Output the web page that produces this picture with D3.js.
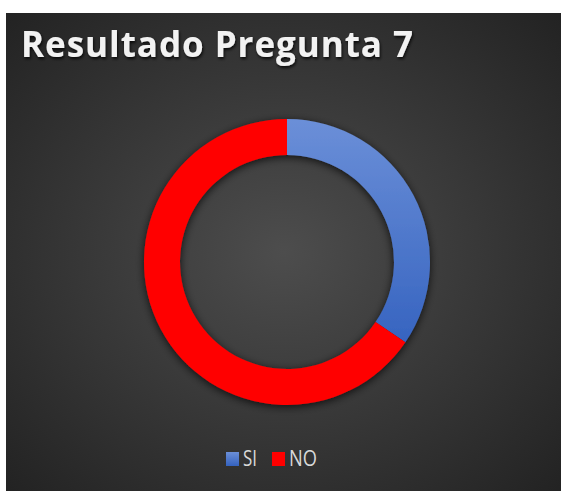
<!DOCTYPE html>
<html>
<head>
<meta charset="utf-8">
<script src="https://cdn.jsdelivr.net/npm/d3@7"></script>
<style>
  body { margin: 0; background: #fff; }
</style>
</head>
<body>
<div id="chart"></div>
<script>
// data
const categories = ["SI", "NO"];
const values = [10, 19];
const colors = ["url(#siGrad)", "#ff0000"];
const legendColors = ["url(#siLegend)", "#ff0000"];
const title = "Resultado Pregunta 7";

const W = 561, H = 491;

const svg = d3.select("#chart")
  .append("svg")
  .attr("width", W)
  .attr("height", H);

const defs = svg.append("defs");

// background radial gradient
const bg = defs.append("radialGradient")
  .attr("id", "bgGrad")
  .attr("cx", "50%").attr("cy", "50%").attr("r", "70%");
bg.append("stop").attr("offset", "0%").attr("stop-color", "#4d4d4d");
bg.append("stop").attr("offset", "100%").attr("stop-color", "#232323");

// blue slice gradient
const sg = defs.append("linearGradient")
  .attr("id", "siGrad")
  .attr("gradientUnits", "userSpaceOnUse")
  .attr("x1", 0).attr("y1", -143).attr("x2", 0).attr("y2", 90);
sg.append("stop").attr("offset", "0%").attr("stop-color", "#6b8fd8");
sg.append("stop").attr("offset", "100%").attr("stop-color", "#3462bf");

const sl = defs.append("linearGradient")
  .attr("id", "siLegend")
  .attr("x1", 0).attr("y1", 0).attr("x2", 0).attr("y2", 1);
sl.append("stop").attr("offset", "0%").attr("stop-color", "#6b8fd8");
sl.append("stop").attr("offset", "100%").attr("stop-color", "#3462bf");

// shadows
const shadow = defs.append("filter").attr("id", "ringShadow")
  .attr("x", "-20%").attr("y", "-20%").attr("width", "140%").attr("height", "140%");
shadow.append("feDropShadow")
  .attr("dx", 0).attr("dy", 2).attr("stdDeviation", 4)
  .attr("flood-color", "#000").attr("flood-opacity", 0.75);

const tshadow = defs.append("filter").attr("id", "textShadow")
  .attr("x", "-10%").attr("y", "-30%").attr("width", "120%").attr("height", "160%");
tshadow.append("feDropShadow")
  .attr("dx", 1).attr("dy", 2).attr("stdDeviation", 1.5)
  .attr("flood-color", "#000").attr("flood-opacity", 0.8);

// chart area
svg.append("rect")
  .attr("x", 6).attr("y", 13)
  .attr("width", W - 6).attr("height", H - 13)
  .attr("fill", "url(#bgGrad)");

// title
svg.append("text")
  .attr("x", 21)
  .attr("y", 57)
  .attr("textLength", 392)
  .attr("lengthAdjust", "spacing")
  .style("font-family", "'Open Sans', sans-serif")
  .style("font-weight", "bold")
  .style("font-size", "35px")
  .attr("fill", "#f2f2f2")
  .attr("filter", "url(#textShadow)")
  .text(title);

// donut
const cx = 287, cy = 262, outerR = 143, innerR = 107;

const pie = d3.pie().sort(null).value(d => d);
const arc = d3.arc().innerRadius(innerR).outerRadius(outerR);

const g = svg.append("g")
  .attr("transform", `translate(${cx},${cy})`)
  .attr("filter", "url(#ringShadow)");

g.selectAll("path")
  .data(pie(values))
  .enter()
  .append("path")
  .attr("d", arc)
  .attr("fill", (d, i) => colors[i]);

// legend
const legendX = [226, 272];
const legendW = [14, 28];
const lg = svg.append("g");
categories.forEach(function (c, i) {
  lg.append("rect")
    .attr("x", legendX[i]).attr("y", 452)
    .attr("width", 13).attr("height", 14)
    .attr("fill", legendColors[i]);
  lg.append("text")
    .attr("x", legendX[i] + 17)
    .attr("y", 466)
    .attr("textLength", legendW[i])
    .attr("lengthAdjust", "spacingAndGlyphs")
    .style("font-family", "'Open Sans', sans-serif")
    .style("font-size", "21px")
    .attr("fill", "#d9d9d9")
    .text(c);
});
</script>
</body>
</html>
